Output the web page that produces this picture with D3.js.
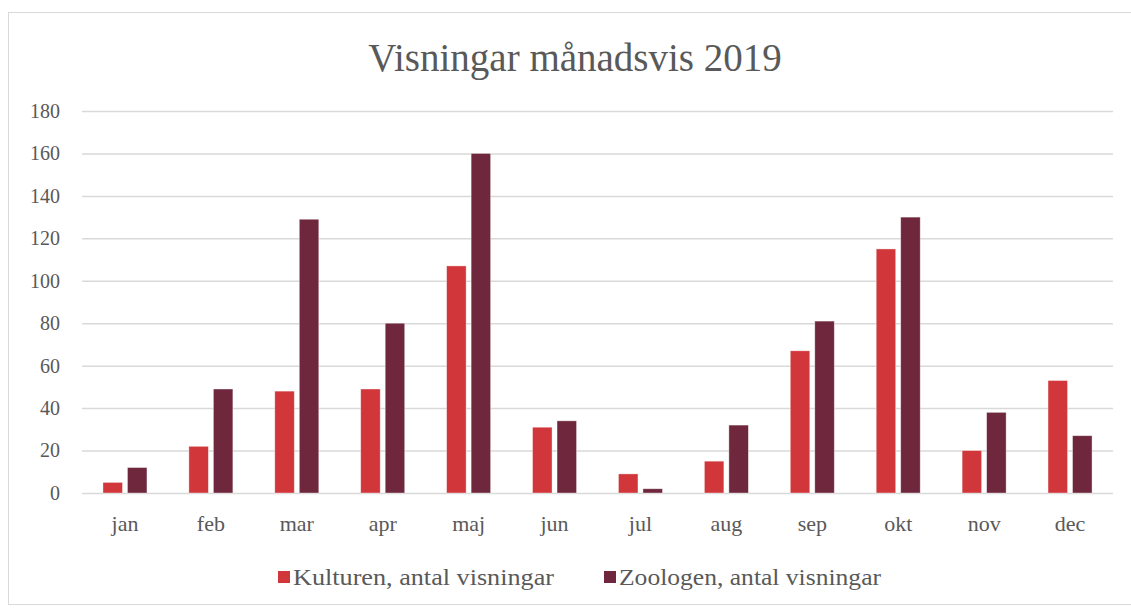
<!DOCTYPE html>
<html><head><meta charset="utf-8">
<script src="https://cdn.jsdelivr.net/npm/d3@7"></script>
<style>
body{margin:0;background:#fff;}
text{font-family:"Liberation Serif","DejaVu Serif",serif;fill:#595959;}
</style></head>
<body><svg id="c" width="1131" height="610"></svg>
<script>
const months = ["jan","feb","mar","apr","maj","jun","jul","aug","sep","okt","nov","dec"];
const kulturen = [5,22,48,49,107,31,9,15,67,115,20,53];
const zoologen = [12,49,129,80,160,34,2,32,81,130,38,27];
const seriesNames = ["Kulturen, antal visningar","Zoologen, antal visningar"];
const colors = ["#D0363A","#6E273C"];
const yTicks = [0,20,40,60,80,100,120,140,160,180];

const svg = d3.select("#c");
svg.append("rect").attr("x",8.5).attr("y",12.5).attr("width",1140).attr("height",592)
  .attr("fill","#fff").attr("stroke","#d9d9d9");

const L=82,R=1113,T=111,B=493;
const x = d3.scaleBand().domain(months).range([L,R]);
const y = d3.scaleLinear().domain([0,180]).range([B,T]);

svg.append("g").selectAll("line").data(yTicks).join("line")
  .attr("x1",L).attr("x2",R).attr("y1",d=>y(d)+0.5).attr("y2",d=>y(d)+0.5)
  .attr("stroke","#d9d9d9").attr("stroke-width",1.5);

const yAxis = svg.append("g").attr("transform",`translate(${L-22},0)`)
  .call(d3.axisLeft(y).tickValues(yTicks).tickSize(0).tickPadding(0));
yAxis.select(".domain").remove();
yAxis.selectAll("text").attr("font-size",20).style("font-family",'"Liberation Serif",serif').attr("fill","#595959");

const xAxis = svg.append("g").attr("transform",`translate(0,${B+21})`)
  .call(d3.axisBottom(x).tickSize(0).tickPadding(0));
xAxis.select(".domain").remove();
xAxis.selectAll("text").attr("font-size",22).style("font-family",'"Liberation Serif",serif').attr("fill","#595959").attr("dy","0.75em");

const bw = 19.5, gap = 5;
const data = [kulturen, zoologen];
data.forEach((arr,si)=>{
  svg.append("g").selectAll("rect").data(arr).join("rect")
    .attr("x",(d,i)=>x(months[i])+x.bandwidth()/2 + (si===0 ? -gap/2-bw : gap/2))
    .attr("y",d=>y(d))
    .attr("width",bw)
    .attr("height",d=>B-y(d))
    .attr("fill",colors[si])
    .attr("stroke","#fff").attr("stroke-opacity",0.5).attr("stroke-width",0.75);
});

svg.append("text").attr("x",575).attr("y",71).attr("text-anchor","middle")
  .attr("font-size",39).text("Visningar månadsvis 2019");

const lg = svg.append("g");
const lx = [278,604];
const lw = [261,262];
seriesNames.forEach((n,i)=>{
  lg.append("rect").attr("x",lx[i]).attr("y",571).attr("width",12).attr("height",12).attr("fill",colors[i]);
  lg.append("text").attr("x",lx[i]+15).attr("y",585).attr("font-size",24)
    .attr("textLength",lw[i]).attr("lengthAdjust","spacingAndGlyphs").text(n);
});
</script></body></html>
